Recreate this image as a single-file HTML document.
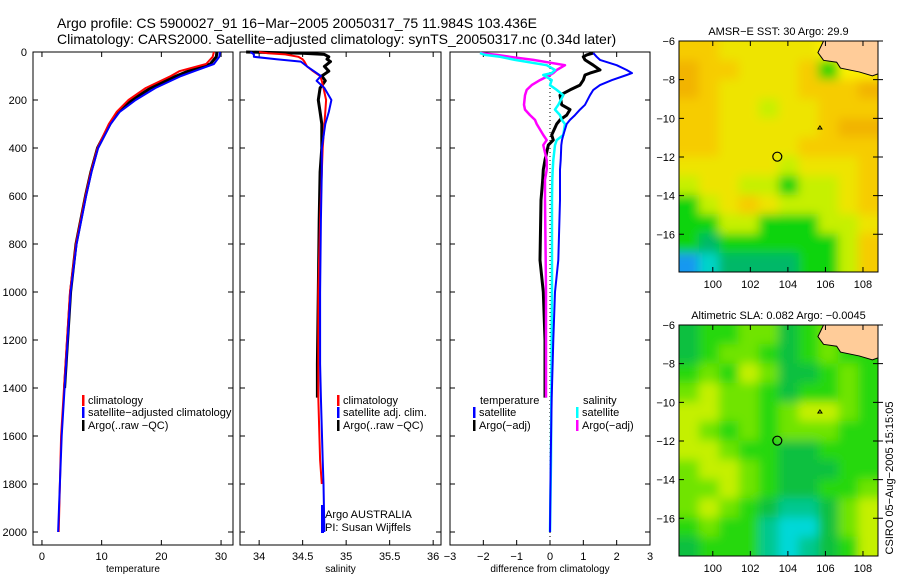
<!DOCTYPE html>
<html><head><meta charset="utf-8"><style>
html,body{margin:0;padding:0;background:#fff;}
svg{display:block;font-family:"Liberation Sans",sans-serif;}
</style></head><body>
<svg id="fig" width="900" height="580" viewBox="0 0 900 580" xmlns="http://www.w3.org/2000/svg">
<defs>
<filter id="soft" x="-5%" y="-5%" width="110%" height="110%"><feGaussianBlur stdDeviation="5"/></filter>
<clipPath id="clip1"><rect x="679" y="41" width="199" height="231"/></clipPath>
<clipPath id="clip2"><rect x="679" y="325" width="199" height="231"/></clipPath>
</defs>
<text x="57" y="28" font-size="14">Argo profile: CS 5900027_91 16−Mar−2005 20050317_75 11.984S 103.436E</text>
<text x="57" y="44" font-size="14">Climatology: CARS2000. Satellite−adjusted climatology: synTS_20050317.nc (0.34d later)</text>
<g id="g1"></g>
<g id="g2"></g>
<g id="g3"></g>
<g id="m1"></g>
<g id="m2"></g>
<text transform="translate(893,478) rotate(-90)" text-anchor="middle" font-size="11">CSIRO 05−Aug−2005 15:15:05</text>
</svg>
<script>
// ---- data ----
const tDepth = [0,20,50,80,100,150,200,250,300,400,500,600,800,1000,1200,1400,1600,1800,2000];
const tClim  = [28.8,28.6,27.5,23,21.6,17.4,14.5,12.5,11.2,9.3,8.2,7.3,5.7,4.7,4.2,3.7,3.2,3.0,2.8];
const tSat   = [29.8,29.7,28.8,25.5,23.3,19,15.7,13,11.5,9.4,8.3,7.4,5.8,4.8,4.3,3.8,3.3,3.0,2.7];
const tArgo  = [29.3,29.2,28.2,24.5,22.5,18.2,15.1,12.8,11.4,9.3,8.2,7.3,5.7,4.8,4.3,3.8];
const sDepth = [0,5,10,20,30,40,60,80,100,120,150,200,250,300,400,500,700,1000,1300,1440,1700,1800,2000];
const sClim  = [34.0,34.1,34.3,34.45,34.5,34.52,34.55,34.62,34.7,34.72,34.74,34.77,34.76,34.75,34.73,34.72,34.7,34.68,34.68,34.68,34.7,34.72,34.75];
const sSat   = [33.9,33.92,33.94,33.94,34.2,34.48,34.55,34.63,34.71,34.66,34.75,34.83,34.8,34.76,34.72,34.72,34.71,34.7,34.7,34.71,34.73,34.74,34.75];
const sArgo  = [33.85,34.5,34.75,34.8,34.78,34.82,34.75,34.8,34.72,34.76,34.7,34.68,34.7,34.72,34.72,34.7,34.69,34.68,34.67,34.67];
const dDepth = [4,12,20,33,55,75,88,96,117,138,158,180,220,240,263,283,300,346,367,388,450,490,533,617,867,1000,1200,1440,1700,2000];
const dTSat  = [1.3,1.35,1.4,1.5,2.0,2.3,2.46,2.3,1.86,1.5,1.3,1.2,1.05,0.9,0.75,0.6,0.5,0.4,0.36,0.34,0.32,0.3,0.3,0.3,0.25,0.15,0.1,0.05,0.02,0.0];
const dTArgo = [1.3,1.1,1.0,1.05,1.3,1.5,1.2,1.05,1.0,0.9,0.6,0.3,0.35,0.6,0.5,0.3,0.2,0.05,0.1,-0.05,-0.15,-0.2,-0.22,-0.27,-0.3,-0.2,-0.15,-0.15];
const dSSat  = [-2.1,-1.95,-1.5,-1.05,-0.1,0.15,0.05,-0.2,0.05,0.0,0.2,0.4,0.25,0.15,0.3,0.35,0.45,0.4,0.2,0.15,0.1,0.08,0.07,0.06,0.06,0.06,0.05,0.04,0.03,0.0];
const dSArgo = [-2.1,-1.6,-1.2,-0.5,0.45,0.2,0.1,0.0,-0.3,-0.55,-0.7,-0.75,-0.78,-0.75,-0.6,-0.45,-0.4,-0.2,-0.1,-0.2,-0.1,-0.1,-0.15,-0.15,-0.13,-0.12,-0.12,-0.12];
const depthTicks = [0,200,400,600,800,1000,1200,1400,1600,1800,2000];
const tTicks = [0,10,20,30];
const sTicks = [34,34.5,35,35.5,36];
const dTicks = [-3,-2,-1,0,1,2,3];
const latTicks = [-6,-8,-10,-12,-14,-16];
const lonTicks = [100,102,104,106,108];
// map grids (rows top->bottom, 10 cols), colour class codes
const sstGrid = ["1122222LLL","0112221ILL","0122221110","1122322111","1122222100","1122221111","2222232221","3223343321","4321233321","4433444332","4544444431","W655554431"];
const slaGrid = ["DGGLLDGLXX","DGLLGDGLXX","GLGYLDDGLG","LYLLGDGGLG","YYLLGLYYLG","YLGLGLLLGG","YYLGGDDGGG","LYYLGDDDGG","LLYLGDDGGL","LYLGDTTDLY","GLGGTCCDLY","DGGGTCTDGY"];
const sstColors = {"0":"#f2b400","1":"#f6cc00","2":"#eee400","3":"#c6f000","4":"#10d410","5":"#00b868","6":"#00d4c8","W":"#1898f0","I":"#2cd400","L":"#fbf000","X":"#fbf000"};
const slaColors = {"D":"#10c040","G":"#28d810","L":"#70e400","Y":"#c4f000","T":"#00c890","C":"#00d8d8","X":"#28d810"};
const argoLon = 103.436, argoLat = -11.984;

const NS="http://www.w3.org/2000/svg";
function el(parent,tag,attrs,txt){const e=document.createElementNS(NS,tag);for(const k in attrs)e.setAttribute(k,attrs[k]);if(txt!==undefined)e.textContent=txt;parent.appendChild(e);return e;}

const PT=52, PB=545;
const yD = d => PT + d*0.24;
function panel(g,x0,x1,xmin,xmax,xticks,xlabel,showY,name){
  const xs = v => x0 + (v-xmin)/(xmax-xmin)*(x1-x0);
  const r=el(g,'rect',{x:x0,y:PT,width:x1-x0,height:PB-PT,fill:'none',stroke:'#000','stroke-width':1});
  
  
  xticks.forEach(t=>{const x=xs(t);
    const l=el(g,'path',{d:`M${x},${PB}v-5M${x},${PT}v5`,stroke:'#000'});
    
    
    const tx=el(g,'text',{x:x,y:PB+15,'font-size':11,'text-anchor':'middle'},String(t).replace('-','−'));
    
    
  });
  depthTicks.forEach(d=>{const y=yD(d);
    const l=el(g,'path',{d:`M${x0},${y}h5M${x1},${y}h-5`,stroke:'#000'});
    
    
    if(showY){const tx=el(g,'text',{x:x0-6,y:y+4,'font-size':11,'text-anchor':'end'},d);
      
      }
  });
  const xl=el(g,'text',{x:(x0+x1)/2,y:PB+27,'font-size':10,'text-anchor':'middle'},xlabel);
  
  
  return xs;
}
function line(g,xs,depths,vals,color,w,name){
  const pts=vals.map((v,i)=>`${xs(v).toFixed(1)},${yD(depths[i]).toFixed(1)}`).join(' ');
  const p=el(g,'polyline',{points:pts,fill:'none',stroke:color,'stroke-width':w,'stroke-linejoin':'round'});
  
  
}
function legend(g,x,y,color,label){
  const b=el(g,'rect',{x:x,y:y-9,width:2.5,height:11,fill:color});
  
  
  const t=el(g,'text',{x:x+6,y:y,'font-size':11},label);
  
  
}

const g1=document.getElementById('g1');
const xT=panel(g1,33,233,-1.5,32,tTicks,'temperature',true,'temperature');
line(g1,xT,tDepth.slice(0,tArgo.length),tArgo,'#000',3,'argo-temperature-line');
line(g1,xT,tDepth,tClim,'#f00',2,'climatology-temperature-line');
line(g1,xT,tDepth,tSat,'#00f',2,'satellite-temperature-line');
legend(g1,82,404,'#f00','climatology');
legend(g1,82,416,'#00f','satellite−adjusted climatology');
legend(g1,82,429,'#000','Argo(..raw −QC)');

const g2=document.getElementById('g2');
const xS=panel(g2,240,441,33.78,36.09,sTicks,'salinity',false,'salinity');
line(g2,xS,sDepth.slice(0,sArgo.length),sArgo,'#000',3,'argo-salinity-line');
line(g2,xS,sDepth.slice(0,22),sClim.slice(0,22),'#f00',2,'climatology-salinity-line');
line(g2,xS,sDepth,sSat,'#00f',2,'satellite-salinity-line');
legend(g2,337,404,'#f00','climatology');
legend(g2,337,416,'#00f','satellite adj. clim.');
legend(g2,337,429,'#000','Argo(..raw −QC)');
el(g2,'text',{x:325,y:518,'font-size':11,},'Argo AUSTRALIA');
el(g2,'text',{x:325,y:531,'font-size':11,},'PI: Susan Wijffels');
el(g2,'rect',{x:321,y:505,width:3,height:28,fill:'#00f',});

const g3=document.getElementById('g3');
const xDf=panel(g3,450,650,-3,3,dTicks,'difference from climatology',false,'difference');
el(g3,'line',{x1:xDf(0),y1:PT,x2:xDf(0),y2:PB,stroke:'#000','stroke-dasharray':'1,3',});
line(g3,xDf,dDepth.slice(0,dTArgo.length),dTArgo,'#000',3,'argo-temp-diff-line');
line(g3,xDf,dDepth.slice(0,dSArgo.length),dSArgo,'#f0f',2.5,'argo-sal-diff-line');
line(g3,xDf,dDepth,dSSat,'#0ff',2.5,'satellite-sal-diff-line');
line(g3,xDf,dDepth,dTSat,'#00f',2,'satellite-temp-diff-line');
el(g3,'text',{x:480,y:404,'font-size':11,},'temperature');
legend(g3,473,416,'#00f','satellite');
legend(g3,473,429,'#000','Argo(−adj)');
el(g3,'text',{x:583,y:404,'font-size':11,},'salinity');
legend(g3,576,416,'#0ff','satellite');
legend(g3,576,429,'#f0f','Argo(−adj)');

function map(g,top,grid,colors,title,name,clip){
  const L=679,R=878,H=231,lon0=98.2,lon1=108.8,lat0=-6,lat1=-17.95;
  const xs=v=>L+(v-lon0)/(lon1-lon0)*(R-L);
  const ys=v=>top+(v-lat0)/(lat1-lat0)*H;
  const cw=(R-L)/10,ch=H/12;
  const cg=el(g,'g',{'clip-path':`url(#${clip})`});
  
  
  const inner=el(cg,'g',{filter:'url(#soft)'});
  grid.forEach((row,ri)=>{[...row].forEach((c,ci)=>{
    const cell=el(inner,'rect',{x:(L+(ci-(ci===0?2:0))*cw).toFixed(2),y:(top+(ri-(ri===0?2:0))*ch).toFixed(2),width:(cw*(ci===0||ci===9?3:1)+0.6).toFixed(2),height:(ch*(ri===0||ri===11?3:1)+0.6).toFixed(2),fill:colors[c]});
    
    
  });});
  const land=el(g,'path',{d:`M${xs(105.9)},${ys(-6)} L${xs(105.6)},${ys(-6.6)} L${xs(105.9)},${ys(-7)} L${xs(106.6)},${ys(-7.1)} L${xs(106.8)},${ys(-7.4)} L${xs(107.8)},${ys(-7.6)} L${xs(108.5)},${ys(-7.8)} L${xs(108.8)},${ys(-7.7)} L${xs(108.8)},${ys(-6)} Z`,fill:'#ffcc99',stroke:'#000','stroke-width':1});
  
  
  el(g,'circle',{cx:xs(argoLon),cy:ys(argoLat),r:4.5,fill:'none',stroke:'#000','stroke-width':1.2,});
  el(g,'path',{d:`M${xs(105.6)},${ys(-10.55)} l2,-3 l2,3 z`,fill:'none',stroke:'#000',});
  el(g,'rect',{x:L,y:top,width:R-L,height:H,fill:'none',stroke:'#000',});
  latTicks.forEach(t=>{const y=ys(t);
    const l=el(g,'path',{d:`M${L},${y}h5M${R},${y}h-5M${R},${y}h5`,stroke:'#000'});
    
    
    const tx=el(g,'text',{x:L-4,y:y+4,'font-size':11,'text-anchor':'end'},'−'+Math.abs(t));
    
    
  });
  lonTicks.forEach(t=>{const x=xs(t);
    const l=el(g,'path',{d:`M${x},${top}v5M${x},${top+H}v-5`,stroke:'#000'});
    
    
    const tx=el(g,'text',{x:x,y:top+H+16,'font-size':11,'text-anchor':'middle'},t);
    
    
  });
  const tt=el(g,'text',{x:(L+R)/2,y:top-6,'font-size':11,'text-anchor':'middle'},title);
  
  
}
map(document.getElementById('m1'),41,sstGrid,sstColors,'AMSR−E SST: 30 Argo: 29.9','sst-map','clip1');
map(document.getElementById('m2'),325,slaGrid,slaColors,'Altimetric SLA: 0.082 Argo: −0.0045','sla-map','clip2');
</script>
</body></html>
